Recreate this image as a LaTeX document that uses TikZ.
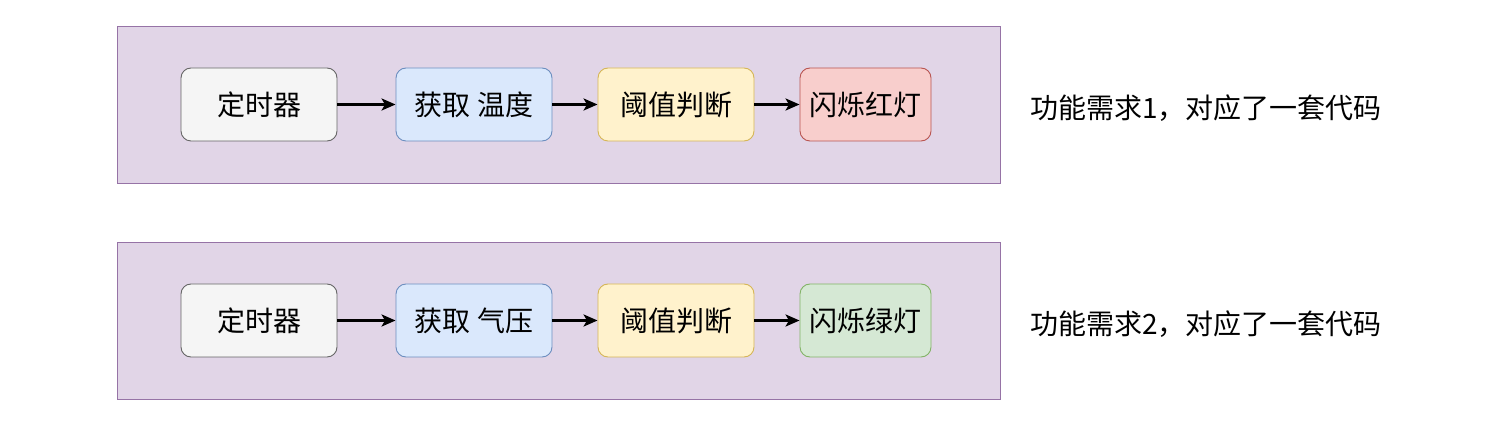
\documentclass[tikz,border=0pt]{standalone}
\usepackage{fontspec}
\setmainfont{Noto Sans CJK SC}
\usetikzlibrary{arrows.meta}
\definecolor{contfill}{HTML}{E1D5E7}
\definecolor{contdraw}{HTML}{9673A6}
\definecolor{grayfill}{HTML}{F5F5F5}
\definecolor{graydraw}{HTML}{666666}
\definecolor{bluefill}{HTML}{DAE8FC}
\definecolor{bluedraw}{HTML}{6C8EBF}
\definecolor{yellowfill}{HTML}{FFF2CC}
\definecolor{yellowdraw}{HTML}{D6B656}
\definecolor{redfill}{HTML}{F8CECC}
\definecolor{reddraw}{HTML}{B85450}
\definecolor{greenfill}{HTML}{D5E8D4}
\definecolor{greendraw}{HTML}{82B366}
\tikzset{
  container/.style={draw=contdraw, fill=contfill, line width=0.9pt, minimum width=883pt, minimum height=157pt, inner sep=0pt},
  stepbox/.style={rounded corners=10pt, line width=0.9pt, minimum height=73pt, inner sep=0pt, font=\fontsize{28}{32}\selectfont, text=black},
  flow/.style={line width=2.6pt, -{Stealth[length=14pt,width=12pt,inset=3.5pt]}},
  note/.style={font=\fontsize{28}{32}\selectfont, anchor=west, inner sep=0pt, text=black}
}
\begin{document}
\begin{tikzpicture}[x=1pt,y=-1pt]
\useasboundingbox (0,0) rectangle (1497,446);
% row 1
\node[container] (c1) at (558.5,104.5) {};
\node[stepbox, fill=grayfill, draw=graydraw, minimum width=156pt] (t1) at (259,104.5) {定时器};
\node[stepbox, fill=bluefill, draw=bluedraw, minimum width=156pt] (g1) at (474,104.5) {获取 温度};
\node[stepbox, fill=yellowfill, draw=yellowdraw, minimum width=156pt] (j1) at (676,104.5) {阈值判断};
\node[stepbox, fill=redfill, draw=reddraw, minimum width=131pt] (l1) at (865.5,104.5) {闪烁红灯};
\draw[flow] (t1) -- (g1);
\draw[flow] (g1) -- (j1);
\draw[flow] (j1) -- (l1);
\node[note] (n1) at (1030,108) {功能需求1，对应了一套代码};
% row 2
\node[container] (c2) at (558.5,320.5) {};
\node[stepbox, fill=grayfill, draw=graydraw, minimum width=156pt] (t2) at (259,320.5) {定时器};
\node[stepbox, fill=bluefill, draw=bluedraw, minimum width=156pt] (g2) at (474,320.5) {获取 气压};
\node[stepbox, fill=yellowfill, draw=yellowdraw, minimum width=156pt] (j2) at (676,320.5) {阈值判断};
\node[stepbox, fill=greenfill, draw=greendraw, minimum width=131pt] (l2) at (865.5,320.5) {闪烁绿灯};
\draw[flow] (t2) -- (g2);
\draw[flow] (g2) -- (j2);
\draw[flow] (j2) -- (l2);
\node[note] (n2) at (1030,324) {功能需求2，对应了一套代码};
\end{tikzpicture}
\end{document}
